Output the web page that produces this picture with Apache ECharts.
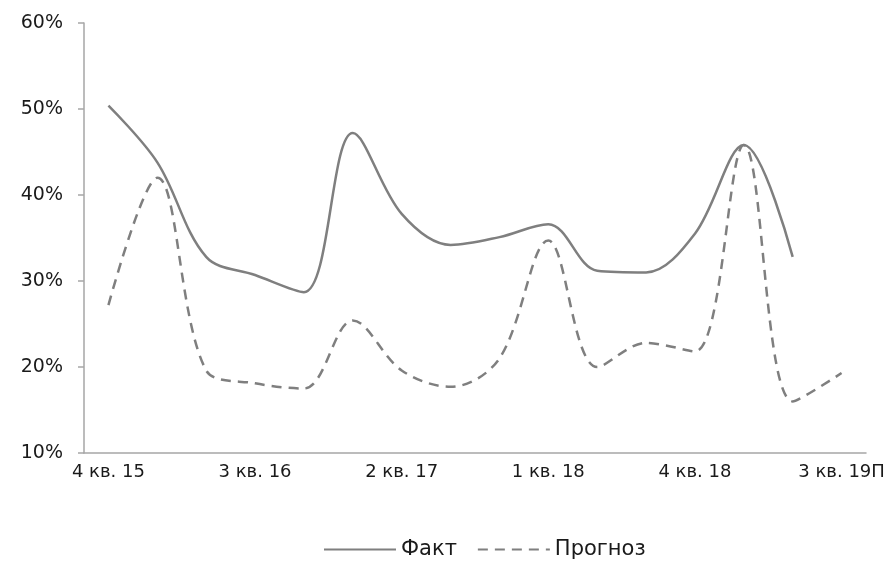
<!DOCTYPE html>
<html>
<head>
<meta charset="utf-8">
<script src="https://cdn.jsdelivr.net/npm/echarts@6/dist/echarts.min.js"></script>
<style>
html,body{margin:0;padding:0;background:#fff;}
#chart{width:893px;height:566px;}
</style>
</head>
<body>
<div id="chart"></div>
<script>
var categories = ['4 кв. 15','1 кв. 16','2 кв. 16','3 кв. 16','4 кв. 16','1 кв. 17','2 кв. 17','3 кв. 17','4 кв. 17','1 кв. 18','2 кв. 18','3 кв. 18','4 кв. 18','1 кв. 19','2 кв. 19','3 кв. 19П'];
var fact = [50.4, 43.8, 32.8, 30.7, 28.7, 47.2, 37.8, 34.2, 35.1, 36.6, 31.2, 31.0, 35.5, 45.8, 32.8, null];
var forecast = [27.2, 42.0, 19.6, 18.1, 17.5, 25.4, 19.6, 17.7, 21.0, 34.7, 20.0, 22.8, 21.8, 45.8, 16.0, 19.3];
var yTicks = {min: 10, max: 60, interval: 10};

var font = '"DejaVu Sans", sans-serif';
var chart = echarts.init(document.getElementById('chart'));
chart.setOption({
  backgroundColor: '#ffffff',
  animation: false,
  textStyle: {fontFamily: font},
  grid: {left: 84, right: 27, top: 23, bottom: 113, containLabel: false},
  xAxis: {
    type: 'category',
    data: categories,
    boundaryGap: true,
    axisLine: {lineStyle: {color: '#a6a6a6', width: 1.5}},
    axisTick: {show: false},
    axisLabel: {interval: 2, color: '#1a1a1a', fontSize: 18, margin: 10, fontFamily: font}
  },
  yAxis: {
    type: 'value',
    min: yTicks.min, max: yTicks.max, interval: yTicks.interval,
    axisLine: {show: true, lineStyle: {color: '#a6a6a6', width: 1.5}},
    axisTick: {show: true, length: 6, lineStyle: {color: '#a6a6a6', width: 1.5}},
    splitLine: {show: false},
    axisLabel: {formatter: '{value}%', color: '#1a1a1a', fontSize: 19, margin: 21, fontFamily: font}
  },
  legend: {
    bottom: 1,
    left: 318,
    itemWidth: 72,
    itemHeight: 14,
    itemGap: 20,
    itemStyle: {opacity: 0},
    textStyle: {color: '#1a1a1a', fontSize: 21, fontFamily: font},
    data: ['Факт', 'Прогноз']
  },
  series: [
    {
      name: 'Факт', type: 'line', data: fact, smooth: 0.35, symbol: 'none',
      lineStyle: {color: '#7f7f7f', width: 2.5},
      itemStyle: {color: '#7f7f7f'}
    },
    {
      name: 'Прогноз', type: 'line', data: forecast, smooth: 0.35, symbol: 'none',
      lineStyle: {color: '#7f7f7f', width: 2.5, type: [10, 7]},
      itemStyle: {color: '#7f7f7f'}
    }
  ]
});
</script>
</body>
</html>
